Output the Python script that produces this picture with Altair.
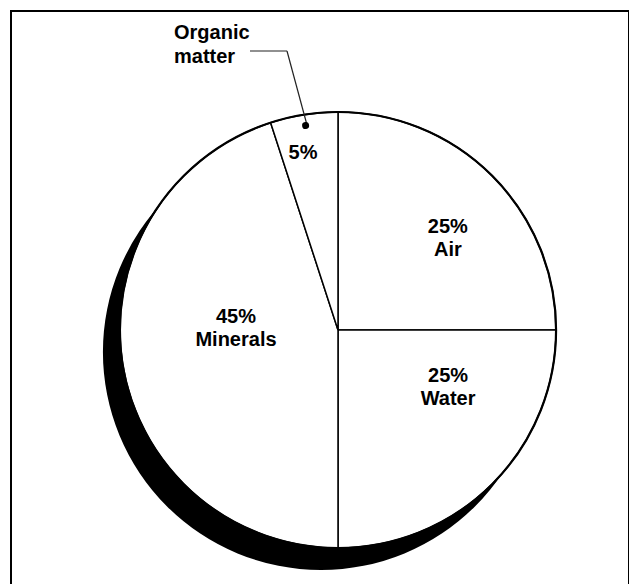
import math
import pandas as pd
import altair as alt

# ---- data ----
categories = ["Air", "Water", "Minerals", "Organic matter"]
percents = [25, 25, 45, 5]
slice_labels = ["25%\nAir", "25%\nWater", "45%\nMinerals", "5%"]
callout_text = "Organic\nmatter"

df = pd.DataFrame({
    "category": categories,
    "percent": percents,
    "order": list(range(len(categories))),
    "label": slice_labels,
})

# ---- layout ----
W, H = 621, 576
CX, CY = 330, 322          # pie centre
R = 218                    # pie radius
SHX, SHY = CX - 17, CY + 22   # shadow centre
FONT = "Liberation Sans"
LH = 23
theta_scale = alt.Scale(domain=[0, 100])

one = pd.DataFrame({"k": [1]})

def rule(x1, y1, x2, y2, w=2, color="black"):
    return alt.Chart(one).mark_rule(color=color, strokeWidth=w).encode(
        x=alt.value(x1), y=alt.value(y1), x2=alt.value(x2), y2=alt.value(y2)
    )

frame = rule(3, 3, 3, 590) + rule(2, 3, 622, 3) + rule(621, 3, 621, 590)

shadow = alt.Chart(one).mark_arc(radius=R, theta=2 * math.pi, fill="black").encode(
    x=alt.value(SHX), y=alt.value(SHY)
)

slices = alt.Chart(df).mark_arc(
    radius=R, fill="white", stroke="black", strokeWidth=1.5
).encode(
    theta=alt.Theta("percent:Q", stack=True, scale=theta_scale),
    order=alt.Order("order:Q"),
    x=alt.value(CX), y=alt.value(CY),
)

outline = alt.Chart(one).mark_arc(
    radius=R, theta=2 * math.pi, fillOpacity=0, stroke="black", strokeWidth=2.2
).encode(x=alt.value(CX), y=alt.value(CY))

mid_base = alt.Chart(df).transform_window(
    cum="sum(percent)", sort=[alt.SortField("order")], frame=[None, 0]
).transform_calculate(mid="datum.cum - datum.percent / 2")

# label placement: radius (px), angular offset (deg) from slice mid-angle, lines
placement = {
    "Air": (143, 5.2, 2),
    "Water": (124, -17.6, 2),
    "Minerals": (102, 9.6, 2),
    "Organic matter": (180, -2.2, 1),
}

labels = []
for cat, (rad, off, nlines) in placement.items():
    labels.append(
        mid_base.transform_filter(alt.datum.category == cat).mark_text(
            radius=rad, thetaOffset=math.radians(off), lineBreak="\n",
            lineHeight=LH, dy=-(nlines - 1) * LH / 2,
            font=FONT, fontSize=20, fontWeight="bold",
            align="center", baseline="middle", color="black",
        ).encode(
            theta=alt.Theta("mid:Q", stack=False, scale=theta_scale),
            text="label:N",
            x=alt.value(CX), y=alt.value(CY),
        )
    )

dot = mid_base.transform_filter(alt.datum.category == "Organic matter").transform_calculate(
    lo="datum.mid - 0.27", hi="datum.mid + 0.27"
).mark_arc(radius=210.5, radius2=203.5, cornerRadius=3.5, fill="black").encode(
    theta=alt.Theta("lo:Q", stack=False, scale=theta_scale),
    theta2="hi:Q",
    x=alt.value(CX), y=alt.value(CY),
)

leader = rule(242, 43, 279, 43, w=1.2, color="#222") + rule(279, 43, 299, 117, w=1.2, color="#222")

callout = alt.Chart(one).mark_text(
    align="left", baseline="middle", lineBreak="\n", lineHeight=24,
    font=FONT, fontSize=20, fontWeight="bold", color="black",
).encode(x=alt.value(166), y=alt.value(25), text=alt.value(callout_text))

chart = alt.layer(
    frame, shadow, slices, outline, *labels, leader, dot, callout
).properties(
    width=W, height=H, padding=0, autosize=alt.AutoSizeParams(type="none"),
    background="white",
).configure_view(strokeWidth=0)

chart.save("out.html", embed_options={"renderer": "svg", "actions": False})
